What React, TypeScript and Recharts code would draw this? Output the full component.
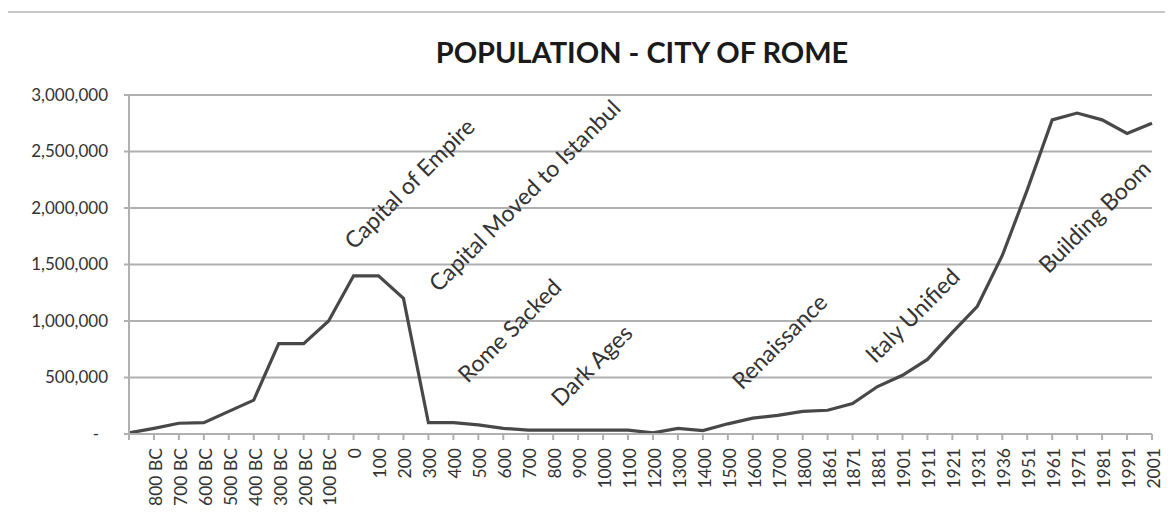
import React from "react";
import { LineChart, Line, XAxis, YAxis, CartesianGrid, ReferenceDot } from "recharts";

const categories = [
  "", "800 BC", "700 BC", "600 BC", "500 BC", "400 BC", "300 BC", "200 BC", "100 BC", "0",
  "100", "200", "300", "400", "500", "600", "700", "800", "900", "1000",
  "1100", "1200", "1300", "1400", "1500", "1600", "1700", "1800", "1861", "1871",
  "1881", "1901", "1911", "1921", "1931", "1936", "1951", "1961", "1971", "1981",
  "1991", "2001",
];

const population = [
  10000, 50000, 95000, 100000, 200000, 300000, 800000, 800000, 1000000, 1400000,
  1400000, 1200000, 100000, 100000, 80000, 50000, 35000, 35000, 35000, 35000,
  35000, 10000, 50000, 30000, 90000, 140000, 165000, 200000, 210000, 270000,
  420000, 520000, 660000, 900000, 1130000, 1580000, 2160000, 2780000, 2840000, 2780000,
  2660000, 2750000,
];

const yTicks = [0, 500000, 1000000, 1500000, 2000000, 2500000, 3000000];

const annotationTexts = [
  "Capital of Empire",
  "Capital Moved to Istanbul",
  "Rome Sacked",
  "Dark Ages",
  "Renaissance",
  "Italy Unified",
  "Building Boom",
];
const annotationAt = [11.22, 15.83, 15.23, 18.52, 26.05, 31.38, 38.68];
const annotationValue = [2220000, 2115000, 920000, 611000, 823000, 1053000, 1929000];

const data = categories.map((c, i) => ({ i, label: c, pop: population[i] }));
const xTicks = categories.map((_, i) => i);

const FONT = "Lato, 'Open Sans', sans-serif";
const GRID = "#b0b0b0";

const XTick = (props: any) => {
  const { x, y, payload } = props;
  const label = categories[payload.value] ?? "";
  return (
    <text
      x={x}
      y={y}
      transform={`rotate(-90 ${x} ${y})`}
      textAnchor="end"
      dy="0.45em"
      fontFamily={FONT}
      fontSize={17.5}
      fill="#333"
    >
      {label}
    </text>
  );
};

const YTick = (props: any) => {
  const { x, y, payload } = props;
  const v = payload.value as number;
  const label = v === 0 ? "-" : v.toLocaleString("en-US");
  return (
    <text
      x={v === 0 ? x - 9 : x}
      y={y}
      textAnchor="end"
      dy="0.35em"
      fontFamily={FONT}
      fontSize={17}
      fill="#333"
    >
      {label}
    </text>
  );
};

const makeAnnotation = (text: string) => (props: any) => {
  const { cx, cy } = props;
  return (
    <text
      x={cx}
      y={cy}
      transform={`rotate(-45 ${cx} ${cy})`}
      textAnchor="middle"
      dominantBaseline="central"
      fontFamily={FONT}
      fontSize={23}
      fill="#333"
    >
      {text}
    </text>
  );
};

export default function App() {
  return (
    <div
      style={{
        position: "relative",
        width: 1173,
        height: 518,
        margin: -8,
        overflow: "hidden",
        background: "#fff",
      }}
    >
      <div
        style={{
          position: "absolute",
          left: 6,
          top: 11,
          width: 1300,
          height: 700,
          border: "2px solid #c8c8c8",
        }}
      />
      <div
        style={{
          position: "absolute",
          left: 0,
          top: 34,
          width: 1284,
          textAlign: "center",
          fontFamily: FONT,
          fontWeight: 700,
          fontSize: 29,
          color: "#1a1a1a",
        }}
      >
        POPULATION - CITY OF ROME
      </div>
      <div style={{ position: "absolute", left: 0, top: 0 }}>
        <LineChart
          width={1173}
          height={518}
          data={data}
          margin={{ top: 95, right: 21, bottom: 0, left: 0 }}
        >
          <CartesianGrid vertical={false} stroke={GRID} strokeWidth={2} />
          <XAxis
            dataKey="i"
            type="number"
            domain={[0, categories.length - 1]}
            ticks={xTicks}
            interval={0}
            height={84}
            tick={<XTick />}
            tickSize={6}
            tickMargin={8}
            stroke={GRID}
            strokeWidth={2}
          />
          <YAxis
            domain={[0, 3000000]}
            ticks={yTicks}
            width={129}
            tick={<YTick />}
            tickSize={5}
            tickMargin={16}
            stroke={GRID}
            strokeWidth={2}
          />
          <Line
            type="linear"
            dataKey="pop"
            stroke="#484848"
            strokeWidth={3.2}
            dot={false}
            isAnimationActive={false}
          />
          {annotationTexts.map((t, k) => (
            <ReferenceDot
              key={t}
              x={annotationAt[k]}
              y={annotationValue[k]}
              r={0}
              ifOverflow="visible"
              shape={makeAnnotation(t)}
            />
          ))}
        </LineChart>
      </div>
    </div>
  );
}
